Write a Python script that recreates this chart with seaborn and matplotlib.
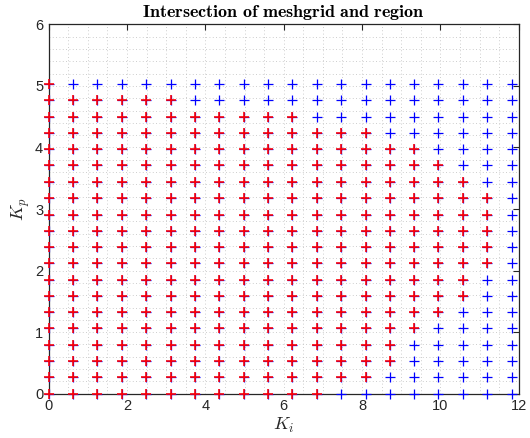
import numpy as np
import pandas as pd
import matplotlib
matplotlib.use("Agg")
import matplotlib.pyplot as plt
from matplotlib.ticker import MultipleLocator
import seaborn as sns

# Grid of integral gains (Ki) and proportional gains (Kp)
ki_values = [0.0, 0.62, 1.24, 1.87, 2.49, 3.11, 3.73, 4.35, 4.98, 5.60,
             6.22, 6.84, 7.46, 8.09, 8.71, 9.33, 9.95, 10.57, 11.20, 11.82]
kp_values = [0.0, 0.265, 0.53, 0.79, 1.06, 1.32, 1.59, 1.85, 2.12, 2.38,
             2.65, 2.91, 3.18, 3.44, 3.71, 3.97, 4.24, 4.50, 4.77, 5.03]
# Number of Ki grid points (from Ki = 0) lying inside the region, per Kp row
inside_count = [12, 14, 15, 15, 16, 17, 18, 18, 19, 19,
                19, 19, 19, 18, 17, 16, 14, 11, 6, 1]

x_ticks = [0, 2, 4, 6, 8, 10, 12]
y_ticks = [0, 1, 2, 3, 4, 5, 6]

rows = []
for j, kp in enumerate(kp_values):
    for i, ki in enumerate(ki_values):
        rows.append({"Ki": ki, "Kp": kp, "inside": i < inside_count[j]})
grid = pd.DataFrame(rows)
region = grid[grid["inside"]]

sns.set_style("white")
plt.rcParams["mathtext.fontset"] = "cm"
plt.rcParams["font.family"] = ["Liberation Sans", "DejaVu Sans"]

fig = plt.figure(figsize=(5.30, 4.38), dpi=100)
ax = fig.add_axes([0.0919, 0.1011, 0.8868, 0.8434])

# Whole meshgrid in blue, points inside the region overlaid in red
sns.scatterplot(data=grid, x="Ki", y="Kp", marker="+", color="#0000ff",
                s=52, linewidth=0.9, ax=ax, zorder=3, legend=False,
                clip_on=False)
sns.scatterplot(data=region, x="Ki", y="Kp", marker="+", color="#ff0000",
                s=52, linewidth=1.15, ax=ax, zorder=4, legend=False,
                clip_on=False)

ax.set_xlim(0, 12)
ax.set_ylim(0, 6)
ax.set_xticks(x_ticks)
ax.set_yticks(y_ticks)
ax.xaxis.set_minor_locator(MultipleLocator(0.5))
ax.yaxis.set_minor_locator(MultipleLocator(0.2))

dark = "#262626"
ax.grid(True, which="both", linestyle=(0, (1, 3)), linewidth=0.6,
        color="#bdbdbd")
ax.set_axisbelow(True)
ax.tick_params(which="major", direction="in", length=4.5, width=0.8,
               top=True, right=True, colors=dark, labelsize=10.5, pad=4)
ax.tick_params(which="minor", length=0)
for sp in ax.spines.values():
    sp.set_visible(True)
    sp.set_color(dark)
    sp.set_linewidth(0.9)
    sp.set_zorder(2.5)

ax.set_xlabel(r"$K_i$", fontsize=13, color=dark, labelpad=2)
ax.set_ylabel(r"$K_p$", fontsize=13, color=dark, labelpad=2)
ax.set_title(r"$\mathbf{Intersection\ of\ meshgrid\ and\ region}$",
             fontsize=13, color="black", pad=5)

fig.savefig("out.png", dpi=100)
